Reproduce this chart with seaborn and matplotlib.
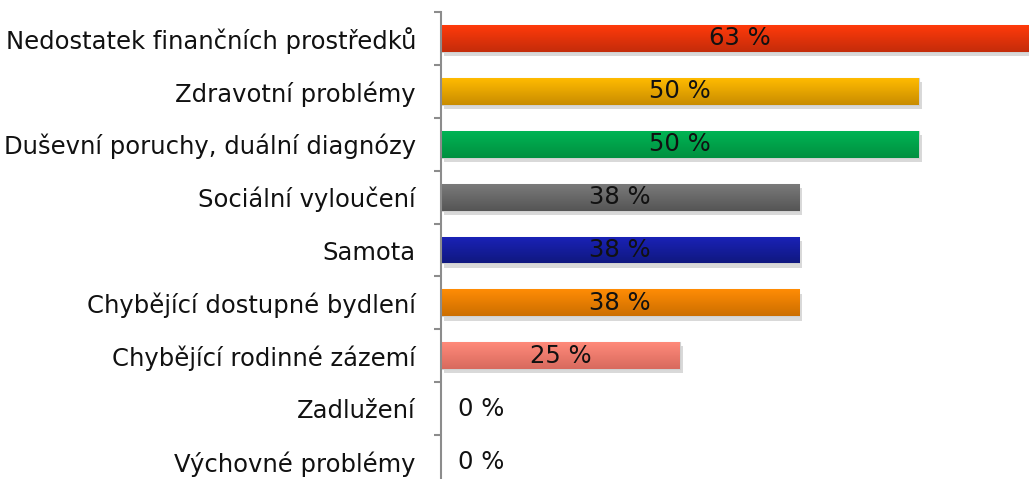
import numpy as np
import matplotlib
matplotlib.use("Agg")
import matplotlib.pyplot as plt
import matplotlib.patheffects as pe
from matplotlib.colors import LinearSegmentedColormap
import seaborn as sns

# data
categories = ["Nedostatek finančních prostředků", "Zdravotní problémy",
              "Duševní poruchy, duální diagnózy", "Sociální vyloučení", "Samota",
              "Chybějící dostupné bydlení", "Chybějící rodinné zázemí",
              "Zadlužení", "Výchovné problémy"]
values = [62.5, 50, 50, 37.5, 37.5, 37.5, 25, 0, 0]
labels = ["63 %", "50 %", "50 %", "38 %", "38 %", "38 %", "25 %", "0 %", "0 %"]

# top / bottom colours of each bar's gradient
top_colors = ["#ff3a0a", "#ffbb00", "#00b454", "#7a7a7a", "#1a22b8", "#ff8c05", "#ff8a7a", "#ffffff", "#ffffff"]
bottom_colors = ["#c42c0a", "#c98c00", "#009040", "#555555", "#101880", "#cc6e00", "#d86a5e", "#ffffff", "#ffffff"]

sns.set_style("white")
plt.rcParams['font.family'] = ['DejaVu Sans']
FS = 17.5

fig = plt.figure(figsize=(10.29, 4.79), dpi=100)
ax = fig.add_axes([441 / 1029, -9 / 479, 669 / 1029, 476 / 479])

sns.barplot(x=values, y=categories, hue=categories, palette=top_colors, legend=False,
            width=0.51, orient="h", ax=ax)

ax.set_xlim(0, 70)
ax.set_ylim(len(categories) - 0.5, -0.5)

# gradient fill + soft shadow
for patch, c_top, c_bot in zip(ax.patches, top_colors, bottom_colors):
    bb = patch.get_bbox()
    if bb.width <= 0:
        continue
    patch.set_path_effects([pe.SimplePatchShadow(offset=(2, -3), shadow_rgbFace="#000000", alpha=0.15),
                            pe.Normal()])
    patch.set_edgecolor("#d0d0d0")
    patch.set_linewidth(0.8)
    cmap = LinearSegmentedColormap.from_list("g", [c_top, c_bot])
    grad = np.linspace(0, 1, 64).reshape(-1, 1)
    im = ax.imshow(grad, cmap=cmap, aspect="auto", extent=(bb.x0, bb.x1, bb.y1, bb.y0),
                   zorder=patch.get_zorder() + 0.1, interpolation="bilinear")
    im.set_clip_path(patch)

ax.set_xlim(0, 70)
ax.set_ylim(len(categories) - 0.5, -0.5)

# value labels
for i, (v, lab) in enumerate(zip(values, labels)):
    if v > 0:
        ax.text(v / 2, i, lab, ha="center", va="center", fontsize=FS, color="#111111", zorder=5)
    else:
        ax.annotate(lab, (0, i), xytext=(12, 0), textcoords="offset points",
                    ha="left", va="center", fontsize=FS, color="#111111")

# axis styling
for s in ["top", "right", "bottom"]:
    ax.spines[s].set_visible(False)
ax.spines["left"].set_color("#8c8c8c")
ax.spines["left"].set_linewidth(1.5)
ax.set_xticks([])
ax.set_yticks(np.arange(len(categories)))
ax.set_yticklabels(categories, fontsize=FS, color="#111111")
ax.set_yticks(np.arange(len(categories) + 1) - 0.5, minor=True)
ax.tick_params(axis="y", which="major", length=0, pad=18)
ax.tick_params(axis="y", which="minor", length=5, width=1.5, color="#8c8c8c", left=True)
ax.set_xlabel("")
ax.set_ylabel("")

fig.savefig("out.png", dpi=100)
